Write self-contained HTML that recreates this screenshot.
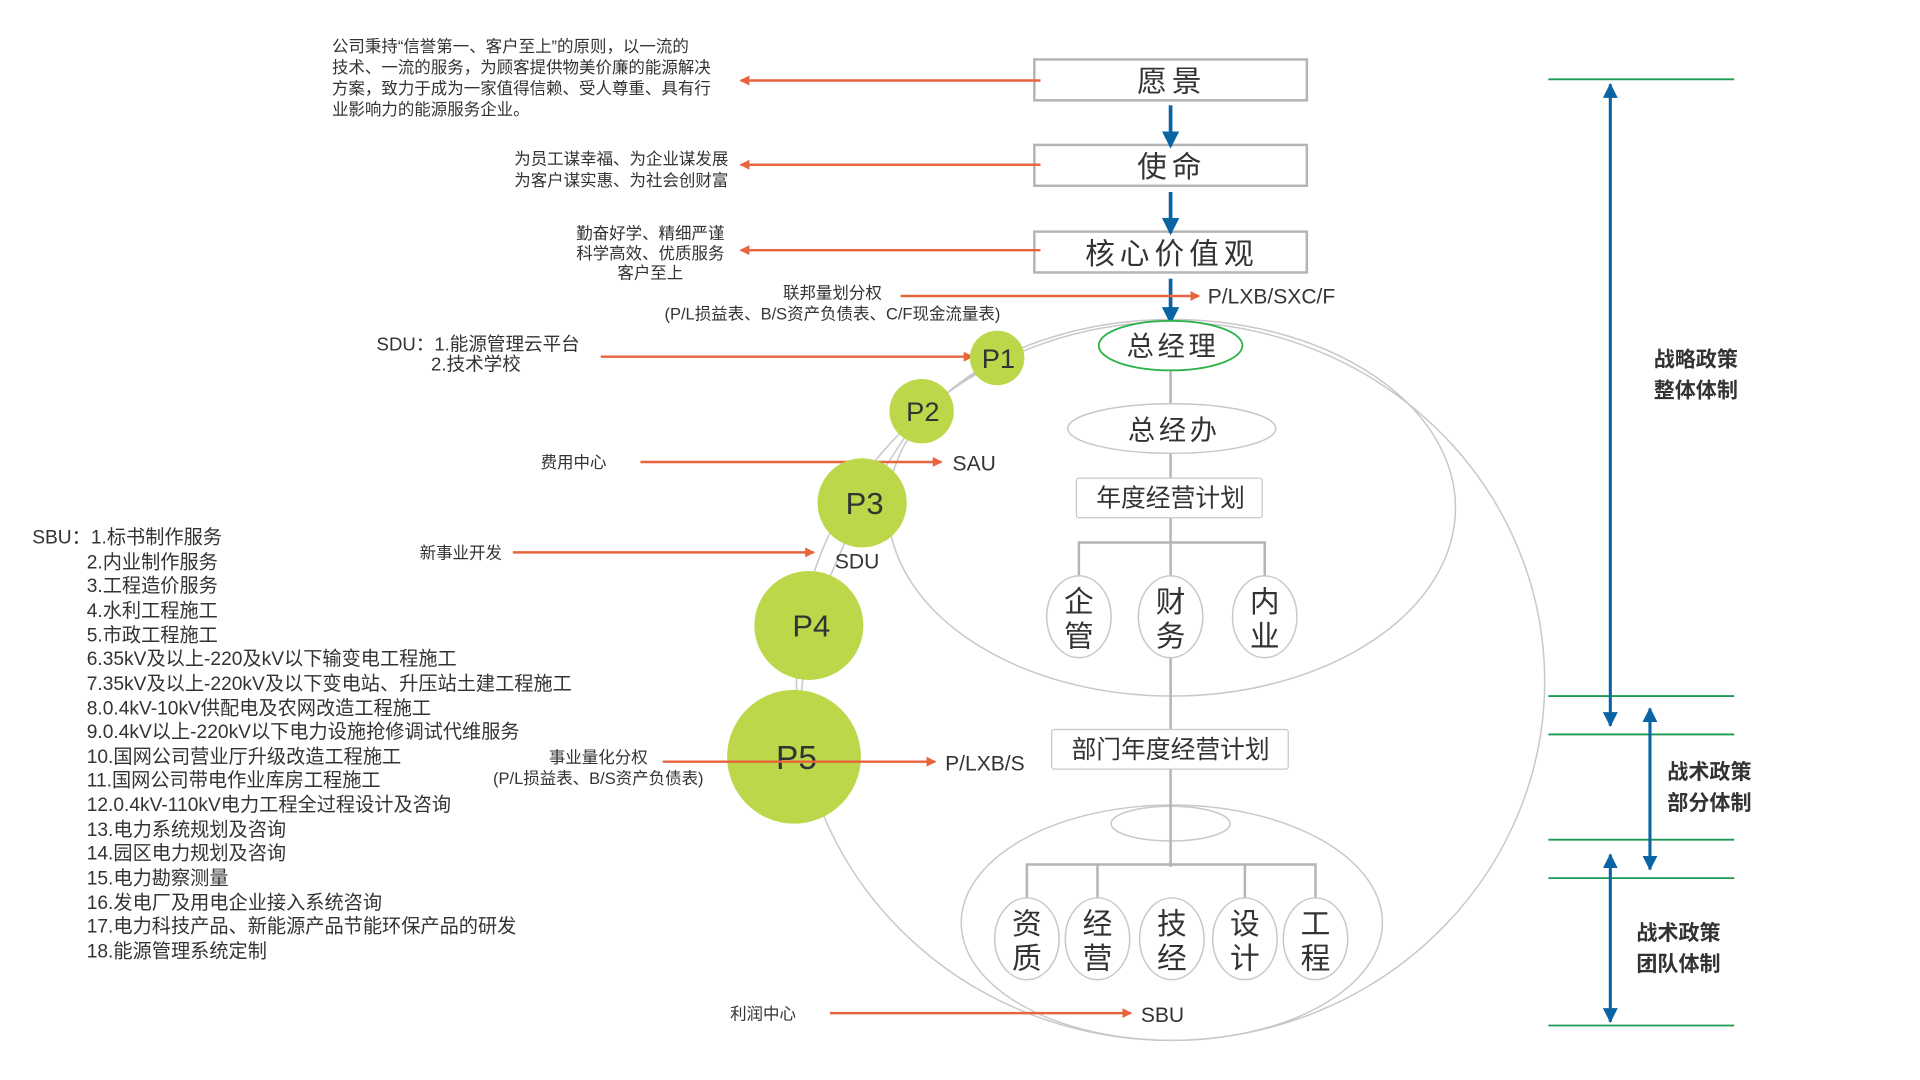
<!DOCTYPE html>
<html><head><meta charset="utf-8"><style>
html,body{margin:0;padding:0;background:#fff;width:1920px;height:1080px;overflow:hidden}
svg{display:block}
text{font-family:"Liberation Sans","Noto Sans CJK SC",sans-serif;fill:#333}
</style></head><body>
<svg width="1920" height="1080" viewBox="0 0 1550 872" preserveAspectRatio="none" xmlns="http://www.w3.org/2000/svg">
<defs>
<marker id="ob" markerWidth="8" markerHeight="8" refX="7" refY="4" orient="auto" markerUnits="userSpaceOnUse"><path d="M0,0 L8,4 L0,8 z" fill="#e8643c"/></marker>
<marker id="bb" markerWidth="14" markerHeight="14" refX="12" refY="7" orient="auto" markerUnits="userSpaceOnUse"><path d="M0,0 L14,7 L0,14 z" fill="#0a64a4"/></marker>
<marker id="bs" markerWidth="12" markerHeight="12" refX="11" refY="6" orient="auto-start-reverse" markerUnits="userSpaceOnUse"><path d="M0,0 L12,6 L0,12 z" fill="#0a64a4"/></marker>
</defs>
<g fill="none" stroke="#c8c8c8" stroke-width="1.2">
<ellipse cx="946" cy="410" rx="229" ry="152"/>
<ellipse cx="945" cy="550" rx="302" ry="290"/>
<ellipse cx="946" cy="745" rx="170" ry="95"/>
<ellipse cx="945" cy="665" rx="48" ry="14"/>
<path d="M805,289 L744,332 L696,406 L653,505 L641,611"/>
</g>
<g fill="#fff" stroke="#b4b4b4" stroke-width="2">
<rect x="835" y="48" width="220" height="33"/>
<rect x="835" y="117" width="220" height="33"/>
<rect x="835" y="187" width="220" height="33"/>
</g>
<g font-size="24" text-anchor="middle" letter-spacing="4">
<text x="946" y="74">愿景</text><text x="946" y="143">使命</text><text x="946" y="213">核心价值观</text>
</g>
<g stroke="#0a64a4" stroke-width="3">
<line x1="945" y1="85" x2="945" y2="118" marker-end="url(#bb)"/>
<line x1="945" y1="155" x2="945" y2="188" marker-end="url(#bb)"/>
<line x1="945" y1="225" x2="945" y2="260" marker-end="url(#bb)"/>
</g>
<g stroke="#e8643c" stroke-width="2">
<line x1="840" y1="65" x2="598" y2="65" marker-end="url(#ob)"/>
<line x1="840" y1="133" x2="598" y2="133" marker-end="url(#ob)"/>
<line x1="840" y1="202" x2="598" y2="202" marker-end="url(#ob)"/>
<line x1="727" y1="239" x2="968" y2="239" marker-end="url(#ob)"/>
<line x1="485" y1="288" x2="785" y2="288" marker-end="url(#ob)"/>
<line x1="517" y1="373" x2="760" y2="373" marker-end="url(#ob)"/>
<line x1="414" y1="446" x2="657" y2="446" marker-end="url(#ob)"/>
<line x1="670" y1="818" x2="913" y2="818" marker-end="url(#ob)"/>
</g>
<g font-size="13.3">
<text x="268" y="42">公司秉持“信誉第一、客户至上”的原则，以一流的</text>
<text x="268" y="59">技术、一流的服务，为顾客提供物美价廉的能源解决</text>
<text x="268" y="76">方案，致力于成为一家值得信赖、受人尊重、具有行</text>
<text x="268" y="93">业影响力的能源服务企业。</text>
</g>
<g font-size="13.3" text-anchor="end">
<text x="588" y="133">为员工谋幸福、为企业谋发展</text>
<text x="588" y="150">为客户谋实惠、为社会创财富</text>
</g>
<g font-size="13.3" text-anchor="middle">
<text x="525" y="193">勤奋好学、精细严谨</text>
<text x="525" y="209">科学高效、优质服务</text>
<text x="525" y="225">客户至上</text>
<text x="672" y="241">联邦量划分权</text>
<text x="672" y="258">(P/L损益表、B/S资产负债表、C/F现金流量表)</text>
<text x="463" y="378">费用中心</text>
<text x="372" y="451">新事业开发</text>
<text x="483" y="616">事业量化分权</text>
<text x="483" y="633">(P/L损益表、B/S资产负债表)</text>
<text x="616" y="823">利润中心</text>
</g>
<g font-size="17">
<text x="975" y="245">P/LXB/SXC/F</text>
<text x="769" y="380">SAU</text>
<text x="674" y="459">SDU</text>
<text x="763" y="622">P/LXB/S</text>
<text x="921" y="825">SBU</text>
</g>
<g font-size="15">
<text x="304" y="283">SDU：1.能源管理云平台</text>
<text x="348" y="299">2.技术学校</text>
</g>
<line x1="945" y1="299" x2="945" y2="700" stroke="#b4b4b4" stroke-width="2"/>
<ellipse cx="945" cy="279" rx="58" ry="20" fill="#fff" stroke="#2db34a" stroke-width="1.5"/>
<ellipse cx="946" cy="346" rx="84" ry="20" fill="#fff" stroke="#c8c8c8" stroke-width="1.2"/>
<rect x="869" y="386" width="150" height="32" rx="2" fill="#fff" stroke="#c8c8c8"/>
<rect x="849" y="589" width="191" height="32" rx="2" fill="#fff" stroke="#c8c8c8"/>
<g fill="none" stroke="#b4b4b4" stroke-width="2">
<path d="M871,465 V438 H1021 V465"/>
<path d="M829,725 V698 H1062 V725 M886,698 V725 M1005,698 V725"/>
</g>
<g font-size="22" text-anchor="middle" letter-spacing="3">
<text x="947" y="287">总经理</text>
<text x="948" y="355">总经办</text>
</g>
<g font-size="20" text-anchor="middle">
<text x="945" y="409">年度经营计划</text>
<text x="945" y="612">部门年度经营计划</text>
</g>
<g fill="#fff" stroke="#c8c8c8" stroke-width="1.2">
<ellipse cx="871" cy="498" rx="26" ry="33"/><ellipse cx="945" cy="498" rx="26" ry="33"/><ellipse cx="1021" cy="498" rx="26" ry="33"/>
<ellipse cx="829" cy="758" rx="26" ry="33"/><ellipse cx="886" cy="758" rx="26" ry="33"/><ellipse cx="946" cy="758" rx="26" ry="33"/><ellipse cx="1005" cy="758" rx="26" ry="33"/><ellipse cx="1062" cy="758" rx="26" ry="33"/>
</g>
<g font-size="24" text-anchor="middle">
<text x="871" y="494">企</text><text x="871" y="522">管</text>
<text x="945" y="494">财</text><text x="945" y="522">务</text>
<text x="1021" y="494">内</text><text x="1021" y="522">业</text>
<text x="829" y="754">资</text><text x="829" y="782">质</text>
<text x="886" y="754">经</text><text x="886" y="782">营</text>
<text x="946" y="754">技</text><text x="946" y="782">经</text>
<text x="1005" y="754">设</text><text x="1005" y="782">计</text>
<text x="1062" y="754">工</text><text x="1062" y="782">程</text>
</g>
<g fill="#bcd74a">
<circle cx="805" cy="289" r="22"/><circle cx="744" cy="332" r="26"/><circle cx="696" cy="406" r="36"/><circle cx="653" cy="505" r="44"/><circle cx="641" cy="611" r="54"/>
</g>
<g font-size="22" text-anchor="middle">
<text x="806" y="297">P1</text><text x="745" y="340">P2</text>
<text x="698" y="415" font-size="25">P3</text><text x="655" y="514" font-size="25">P4</text><text x="643" y="621" font-size="27">P5</text>
</g>
<line x1="535" y1="615" x2="755" y2="615" stroke="#e8643c" stroke-width="2" marker-end="url(#ob)"/>
<g font-size="15.5">
<text x="26" y="439">SBU：1.标书制作服务</text>
<text x="70" y="459">2.内业制作服务</text>
<text x="70" y="478">3.工程造价服务</text>
<text x="70" y="498">4.水利工程施工</text>
<text x="70" y="518">5.市政工程施工</text>
<text x="70" y="537">6.35kV及以上-220及kV以下输变电工程施工</text>
<text x="70" y="557">7.35kV及以上-220kV及以下变电站、升压站土建工程施工</text>
<text x="70" y="577">8.0.4kV-10kV供配电及农网改造工程施工</text>
<text x="70" y="596">9.0.4kV以上-220kV以下电力设施抢修调试代维服务</text>
<text x="70" y="616">10.国网公司营业厅升级改造工程施工</text>
<text x="70" y="635">11.国网公司带电作业库房工程施工</text>
<text x="70" y="655">12.0.4kV-110kV电力工程全过程设计及咨询</text>
<text x="70" y="675">13.电力系统规划及咨询</text>
<text x="70" y="694">14.园区电力规划及咨询</text>
<text x="70" y="714">15.电力勘察测量</text>
<text x="70" y="734">16.发电厂及用电企业接入系统咨询</text>
<text x="70" y="753">17.电力科技产品、新能源产品节能环保产品的研发</text>
<text x="70" y="773">18.能源管理系统定制</text>
</g>
<g stroke="#1a9a52" stroke-width="1.5">
<line x1="1250" y1="64" x2="1400" y2="64"/><line x1="1250" y1="562" x2="1400" y2="562"/>
<line x1="1250" y1="593" x2="1400" y2="593"/><line x1="1250" y1="678" x2="1400" y2="678"/>
<line x1="1250" y1="709" x2="1400" y2="709"/><line x1="1250" y1="828" x2="1400" y2="828"/>
</g>
<g stroke="#0a64a4" stroke-width="2.5">
<line x1="1300" y1="68" x2="1300" y2="586" marker-start="url(#bs)" marker-end="url(#bs)" />
<line x1="1332" y1="572" x2="1332" y2="702" marker-start="url(#bs)" marker-end="url(#bs)"/>
<line x1="1300" y1="690" x2="1300" y2="825" marker-start="url(#bs)" marker-end="url(#bs)"/>
</g>
<g font-size="17" text-anchor="middle" font-weight="bold">
<text x="1369" y="296">战略政策</text><text x="1369" y="321">整体体制</text>
<text x="1380" y="629">战术政策</text><text x="1380" y="654">部分体制</text>
<text x="1355" y="759">战术政策</text><text x="1355" y="784">团队体制</text>
</g>
</svg>
</body></html>
